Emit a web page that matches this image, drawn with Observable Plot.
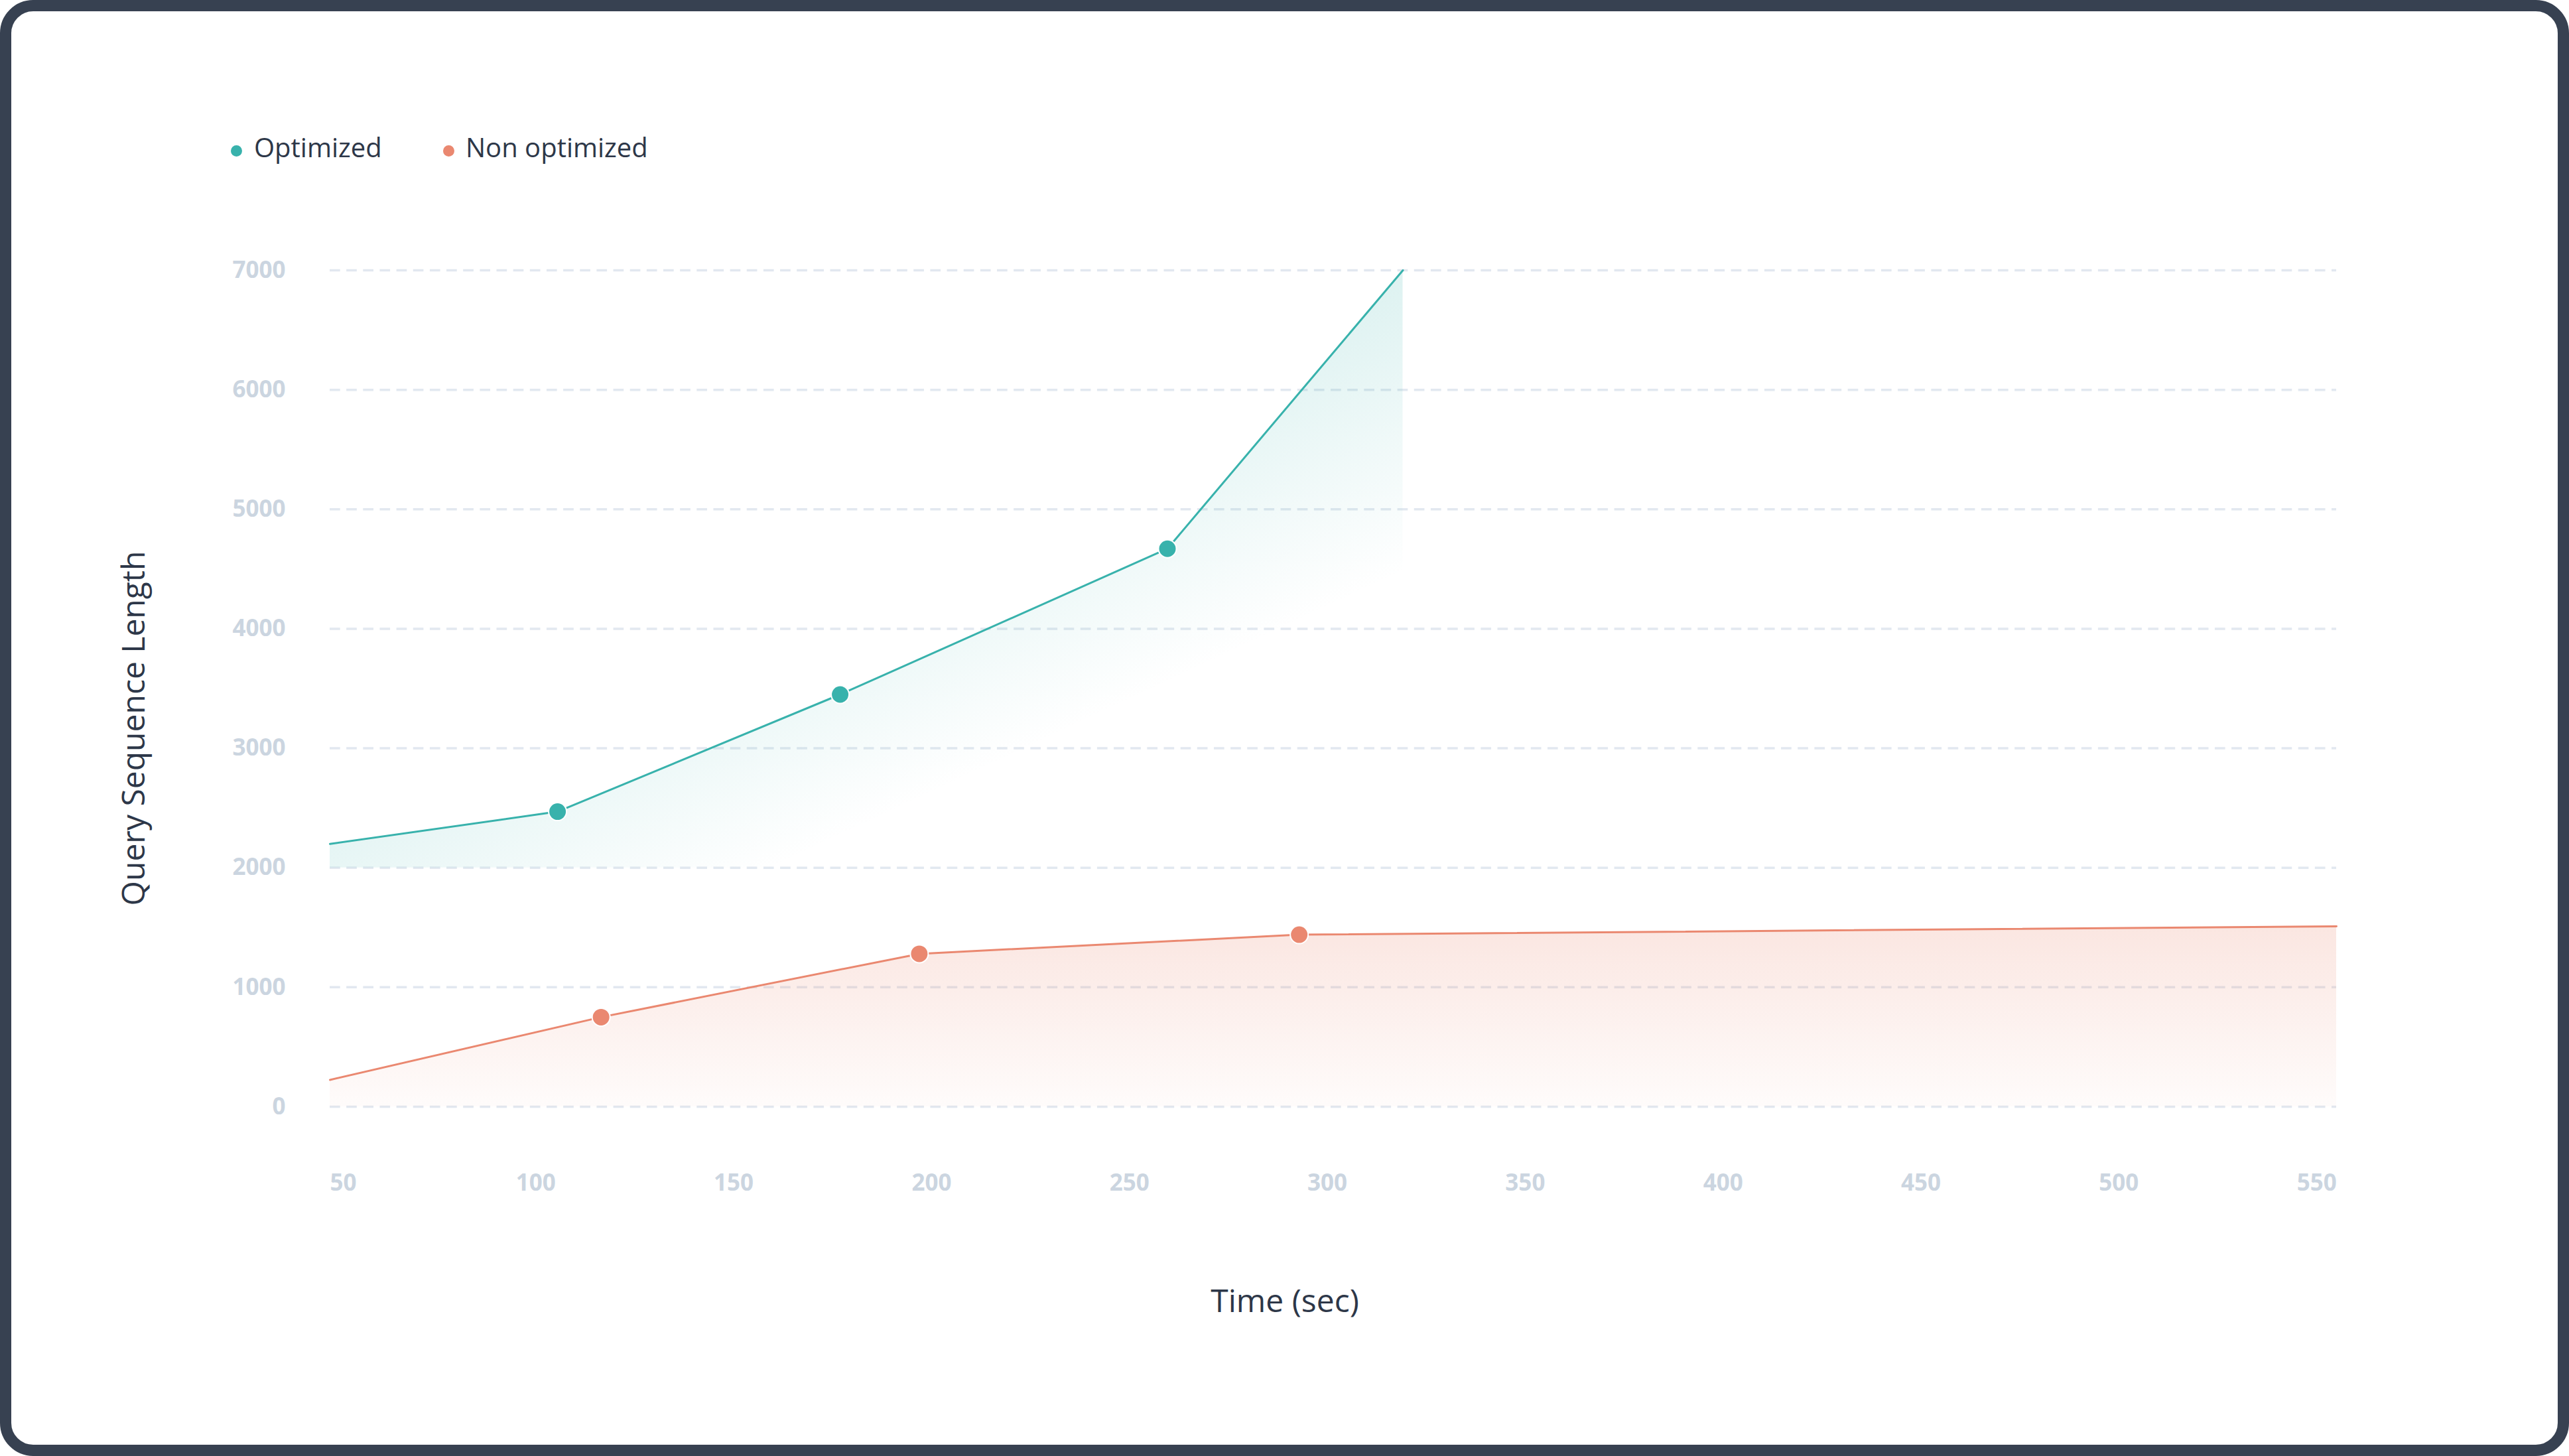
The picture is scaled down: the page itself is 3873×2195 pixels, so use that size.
<!DOCTYPE html>
<html>
<head>
<meta charset="utf-8">
<script src="https://cdn.jsdelivr.net/npm/d3@7"></script>
<script src="https://cdn.jsdelivr.net/npm/@observablehq/plot@0.6"></script>
<style>
  html, body { margin: 0; padding: 0; background: #ffffff; overflow: hidden; }
  #page { position: relative; width: 3873px; height: 2195px; font-family: 'Open Sans', sans-serif; }
  #frame { position: absolute; left: 0; top: 0; right: 0; bottom: 0; border: 17px solid #374151; border-radius: 50px; box-sizing: border-box; pointer-events: none; z-index: 3; }
  #chart svg { position: absolute; left: 0; top: 0; display: block; }
  .legend-dot { position: absolute; border-radius: 50%; }
  .legend-label { position: absolute; font-size: 40px; line-height: 40px; color: #2d3748; white-space: nowrap; font-family: 'Open Sans', sans-serif; }
</style>
</head>
<body>
<div id="page">
  <div id="legend"></div>
  <div id="chart"></div>
  <div id="frame"></div>
</div>
<script>
// ---------- data ----------
const seriesNames = ["Optimized", "Non optimized"];
const seriesColors = ["#38b2ac", "#ea8870"];

const xTicks = [50, 100, 150, 200, 250, 300, 350, 400, 450, 500, 550];
const yTicks = [0, 1000, 2000, 3000, 4000, 5000, 6000, 7000];

const optTime   = [48, 105.5, 176.9, 259.6, 319.1];
const optLength = [2200, 2470, 3450, 4670, 7000];
const optMarked = [false, true, true, true, false];
const optBaseline = 2000;

const nonTime   = [48, 116.5, 196.9, 292.9, 555];
const nonLength = [225, 750, 1280, 1440, 1510];
const nonMarked = [false, true, true, true, false];
const nonBaseline = 0;

const xTitle = "Time (sec)";
const yTitle = "Query Sequence Length";

// ---------- layout ----------
const W = 3873, H = 2195;
const mL = 497, mR = 351, mT = 407, mB = 527;
const tickColor = "#cbd5e0";
const titleColor = "#2d3748";

const optData = optTime.map((t, i) => ({t, v: optLength[i], m: optMarked[i]}));
const nonData = nonTime.map((t, i) => ({t, v: nonLength[i], m: nonMarked[i]}));
const xDomain = d3.extent([...optTime, ...nonTime]);

// gradient definitions (style only)
function defsMark(index, scales) {
  const ns = "http://www.w3.org/2000/svg";
  const defs = document.createElementNS(ns, "defs");
  // optimized: diagonal fade
  const ax = scales.x(optTime[optTime.length - 1]);
  const ay = scales.y(d3.max(optLength));
  const g1 = document.createElementNS(ns, "linearGradient");
  g1.setAttribute("id", "gradOpt");
  g1.setAttribute("gradientUnits", "userSpaceOnUse");
  g1.setAttribute("x1", ax); g1.setAttribute("y1", ay);
  g1.setAttribute("x2", ax + 176); g1.setAttribute("y2", ay + 375);
  [[0, 0.17], [1, 0]].forEach(([o, a]) => {
    const s = document.createElementNS(ns, "stop");
    s.setAttribute("offset", o); s.setAttribute("stop-color", seriesColors[0]); s.setAttribute("stop-opacity", a);
    g1.appendChild(s);
  });
  defs.appendChild(g1);
  // non optimized: vertical fade
  const g2 = document.createElementNS(ns, "linearGradient");
  g2.setAttribute("id", "gradNon");
  g2.setAttribute("x1", 0); g2.setAttribute("y1", 0);
  g2.setAttribute("x2", 0); g2.setAttribute("y2", 1);
  [[0, 0.21], [1, 0.03]].forEach(([o, a]) => {
    const s = document.createElementNS(ns, "stop");
    s.setAttribute("offset", o); s.setAttribute("stop-color", seriesColors[1]); s.setAttribute("stop-opacity", a);
    g2.appendChild(s);
  });
  defs.appendChild(g2);
  return defs;
}

const tickFont = {tickSize: 0, fontSize: 35, fontWeight: 700, color: tickColor, label: null, tickFormat: d => String(d)};

const chart = Plot.plot({
  width: W,
  height: H,
  marginLeft: mL, marginRight: mR, marginTop: mT, marginBottom: mB,
  x: {domain: xDomain, label: null},
  y: {domain: [0, 7000], label: null},
  style: {fontFamily: "'Open Sans', sans-serif", background: "transparent", overflow: "visible"},
  marks: [
    defsMark,
    Plot.ruleY(yTicks, {stroke: "#e2e8f0", strokeWidth: 3.5, strokeDasharray: "15.7 9.45"}),
    Plot.areaY(nonData, {x: "t", y1: nonBaseline, y2: "v", fill: "url(#gradNon)"}),
    Plot.areaY(optData, {x: "t", y1: optBaseline, y2: "v", fill: "url(#gradOpt)"}),
    Plot.line(nonData, {x: "t", y: "v", stroke: seriesColors[1], strokeWidth: 3}),
    Plot.line(optData, {x: "t", y: "v", stroke: seriesColors[0], strokeWidth: 3}),
    Plot.dot(nonData.filter(d => d.m), {x: "t", y: "v", r: 13.5, fill: seriesColors[1], stroke: "#ffffff", strokeWidth: 2}),
    Plot.dot(optData.filter(d => d.m), {x: "t", y: "v", r: 13.5, fill: seriesColors[0], stroke: "#ffffff", strokeWidth: 2}),
    Plot.axisY(yTicks, {...tickFont, tickPadding: 67}),
    Plot.axisX(xTicks.slice(1), {...tickFont, tickPadding: 102}),
    Plot.axisX([xTicks[0]], {...tickFont, tickPadding: 102, textAnchor: "start", dx: -12}),
    Plot.text([xTitle], {text: d => d, frameAnchor: "bottom", lineAnchor: "middle", textAnchor: "middle",
      dx: W / 2 - (mL + (W - mL - mR) / 2), dy: 294, fontSize: 48, fill: titleColor}),
    Plot.text([yTitle], {text: d => d, frameAnchor: "left", lineAnchor: "middle", textAnchor: "middle", rotate: -90,
      dx: -295, dy: H / 2 - (mT + (H - mT - mB) / 2), fontSize: 48, fill: titleColor})
  ]
});
document.getElementById("chart").appendChild(chart);

// ---------- legend (HTML, above the plot area) ----------
const legend = document.getElementById("legend");
const legendPos = [{cx: 356.5, tx: 383}, {cx: 676, tx: 702}];
const dotR = 8.5, dotCy = 227, labelTop = 201.5;
seriesNames.forEach((name, i) => {
  const dot = document.createElement("div");
  dot.className = "legend-dot";
  dot.style.left = (legendPos[i].cx - dotR) + "px";
  dot.style.top = (dotCy - dotR) + "px";
  dot.style.width = (2 * dotR) + "px";
  dot.style.height = (2 * dotR) + "px";
  dot.style.background = seriesColors[i];
  legend.appendChild(dot);
  const lab = document.createElement("div");
  lab.className = "legend-label";
  lab.style.left = legendPos[i].tx + "px";
  lab.style.top = labelTop + "px";
  lab.textContent = name;
  legend.appendChild(lab);
});
</script>
</body>
</html>
